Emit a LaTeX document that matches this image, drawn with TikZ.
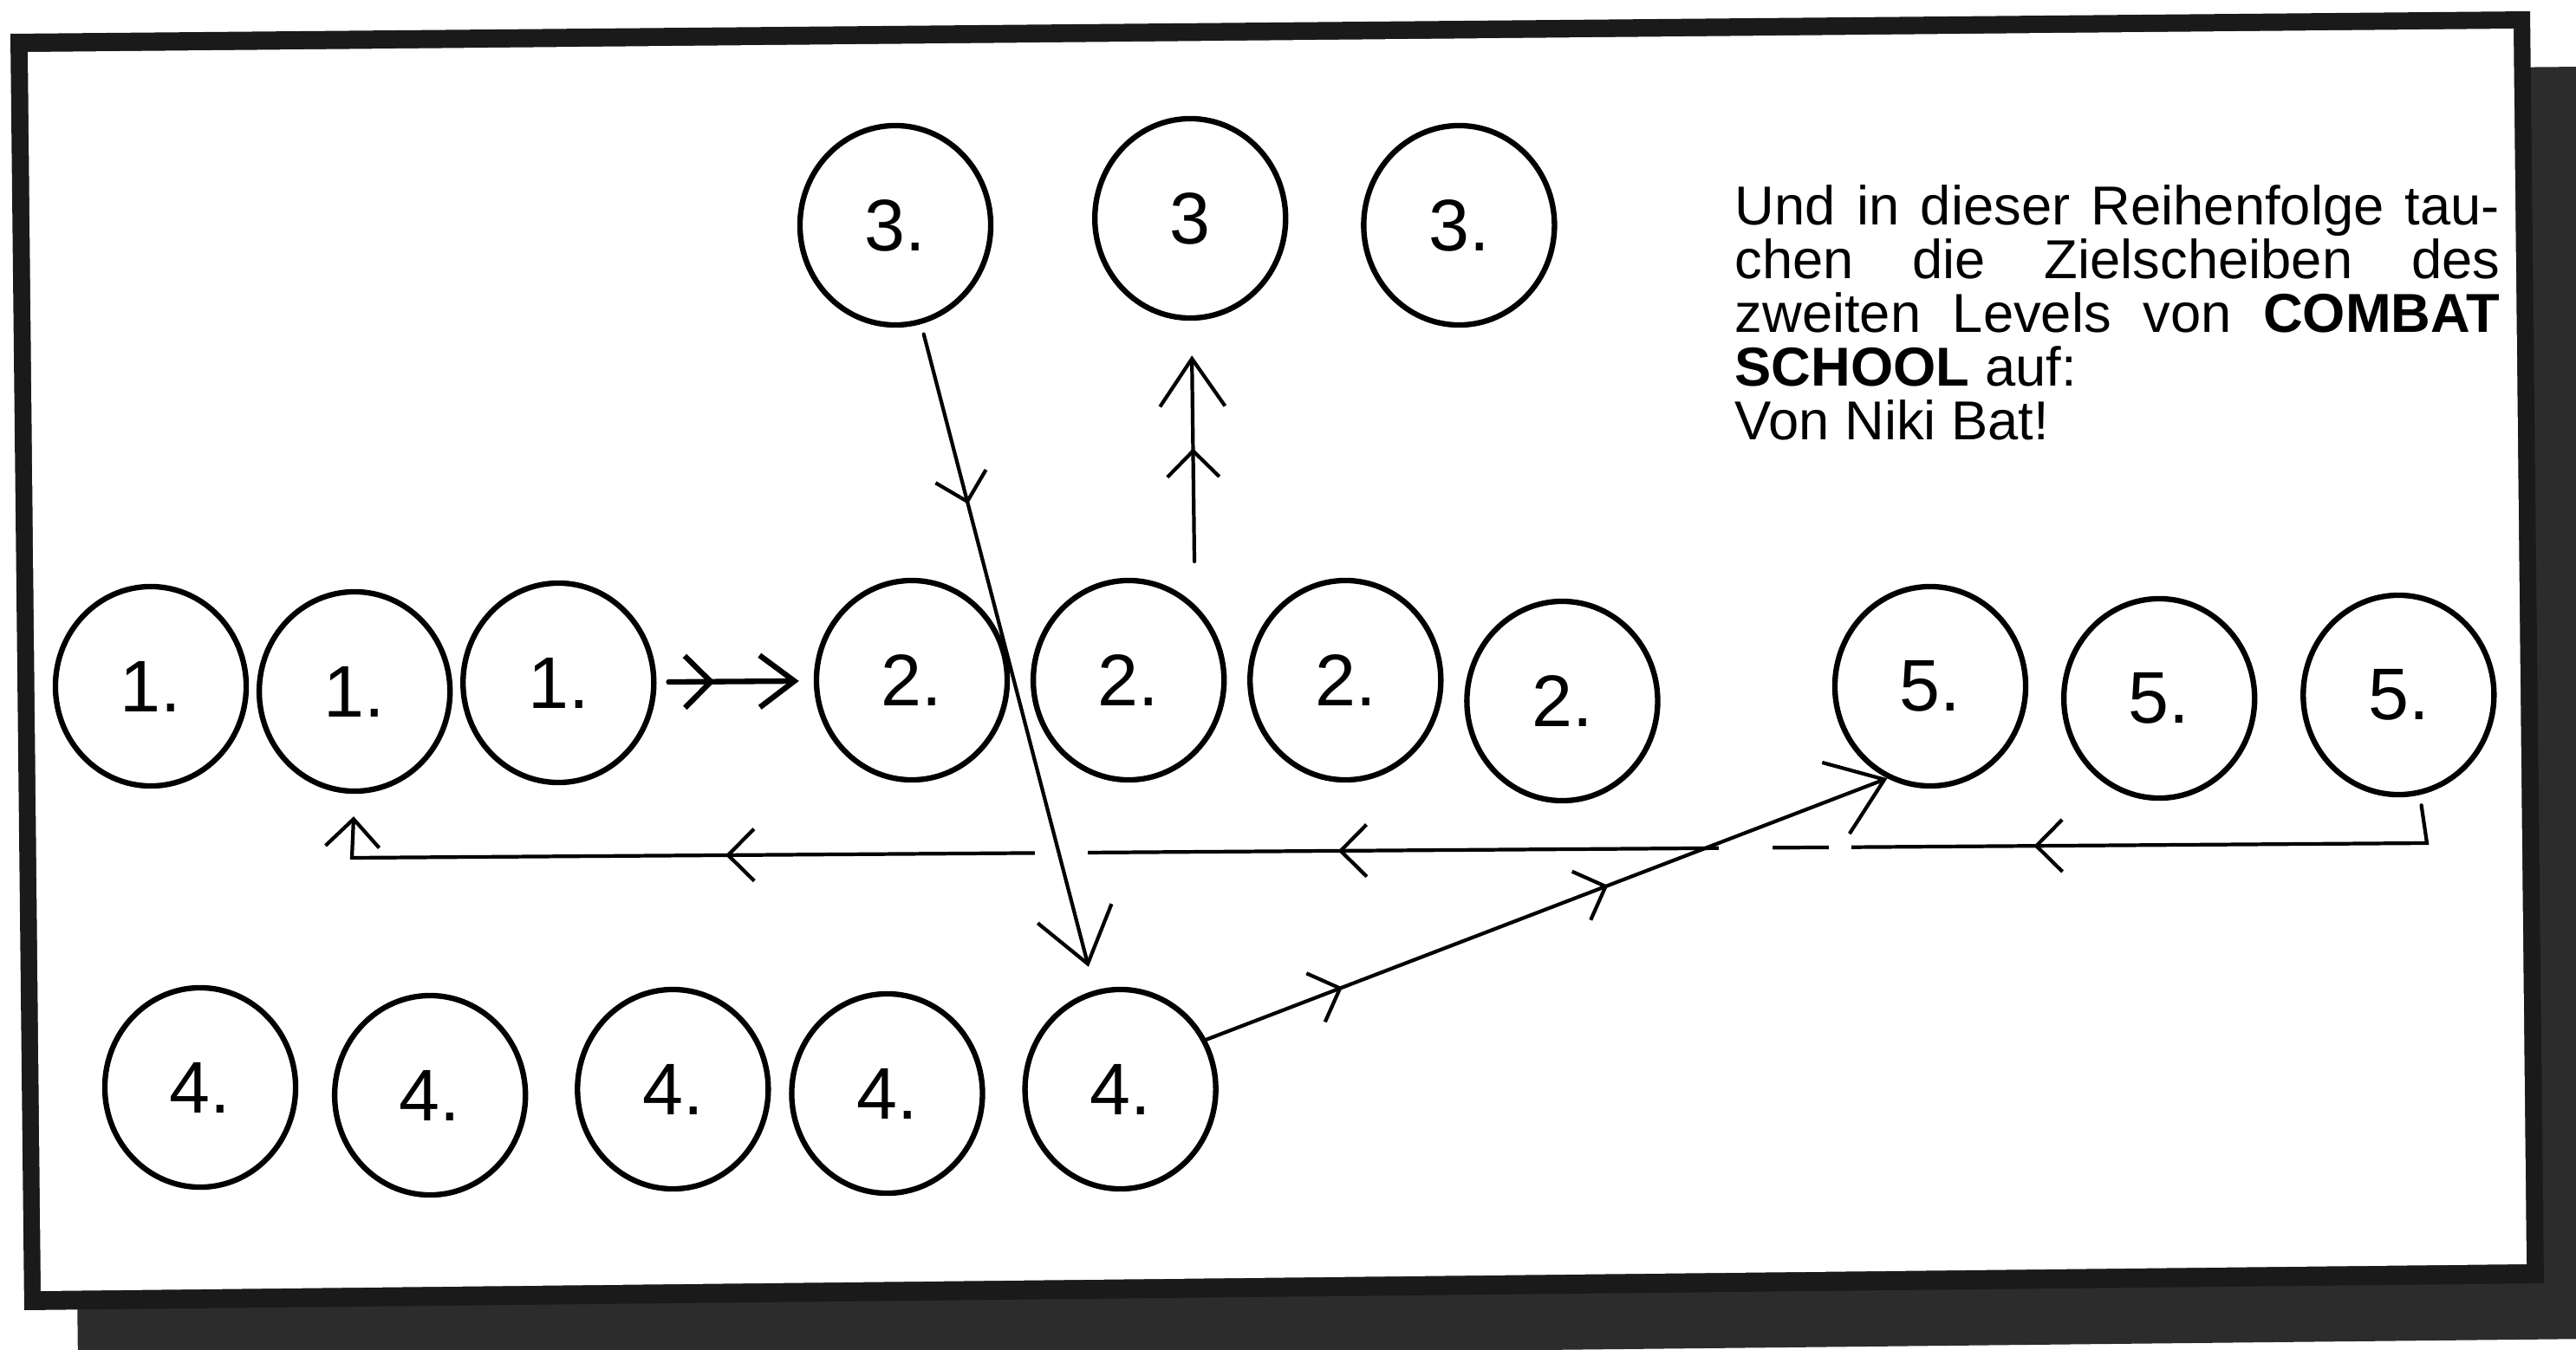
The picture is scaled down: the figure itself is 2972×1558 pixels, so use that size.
\documentclass[tikz,border=0pt]{standalone}
\usepackage{fontspec}
\setmainfont{Liberation Sans}
\usepackage{xcolor}
\usetikzlibrary{positioning,shapes.geometric,arrows.meta,decorations.markings}
\definecolor{framegray}{RGB}{26,26,26}
\definecolor{shadowgray}{RGB}{44,44,44}
\tikzset{
  chev/.tip={Straight Barb[length=0.3cm,width=0.6cm]},
  bigchev/.tip={Straight Barb[length=0.6cm,width=0.88cm]}
}

\begin{document}
\begin{tikzpicture}[
  x=0.01cm, y=-0.01cm,
  node distance=2.5cm,
  target/.style={ellipse, draw, line width=1.8pt, minimum width=2.2cm, minimum height=2.3cm, inner sep=0pt, font=\fontsize{24}{24}\selectfont},
  line/.style={line width=1.2pt, line cap=round},
  midarrow/.style={postaction={decorate, decoration={markings, mark=at position #1 with {\arrow{chev}}}}}
]
  \useasboundingbox (0,0) rectangle (2972,1558);
  \fill[white] (0,0) rectangle (2972,1558);
  % frame with its shadow
  \fill[shadowgray] (74,103) -- (2981,77) -- (2997,1545) -- (90,1576) -- cycle;
  \fill[framegray] (12,39) -- (2919,13) -- (2935,1481) -- (28,1512) -- cycle;
  \fill[white] (32,60) -- (2900,33) -- (2915,1459) -- (47,1490) -- cycle;

  \node[target] (t1a) at (174,792) {1.};
  \node[target, right of=t1a, node distance=2.35cm, yshift=-0.06cm] (t1b) {1.};
  \node[target, right of=t1b, node distance=2.35cm, yshift=0.1cm] (t1c) {1.};

  \node[target] (t2a) at (1052,785) {2.};
  \node[target, right of=t2a] (t2b) {2.};
  \node[target, right of=t2b] (t2c) {2.};
  \node[target, right of=t2c, yshift=-0.24cm] (t2d) {2.};

  \node[target] (t3a) at (1033,260) {3.};
  \node[target, right of=t3a, node distance=3.4cm, yshift=0.08cm] (t3b) {3};
  \node[target, right of=t3b, node distance=3.1cm, yshift=-0.08cm] (t3c) {3.};

  \node[target] (t4a) at (231,1255) {4.};
  \node[target, right of=t4a, node distance=2.65cm, yshift=-0.09cm] (t4b) {4.};
  \node[target, right of=t4b, node distance=2.8cm, yshift=0.07cm] (t4c) {4.};
  \node[target, right of=t4c, node distance=2.47cm, yshift=-0.05cm] (t4d) {4.};
  \node[target, right of=t4d, node distance=2.69cm, yshift=0.05cm] (t4e) {4.};

  \node[target] (t5a) at (2227,792) {5.};
  \node[target, right of=t5a, node distance=2.64cm, yshift=-0.14cm] (t5b) {5.};
  \node[target, right of=t5b, node distance=2.76cm, yshift=0.04cm] (t5c) {5.};

  \node[anchor=base west, inner sep=0pt, text width=8.82cm, align=justify, font=\fontsize{18}{17.6}\selectfont] (note) at (2001,260)
    {\tolerance=10000 \hyphenpenalty=10000 Und in dieser Reihenfolge tau-\linebreak chen die Zielscheiben des\linebreak zweiten Levels von \textbf{COMBAT}\linebreak \textbf{SCHOOL} auf:\newline Von Niki Bat!};

  % way back from the 5s to the 1s
  \coordinate (r1) at (2800,973);
  \coordinate (r2) at (406,990);
  \draw[line, midarrow=0.202, midarrow=0.52, midarrow=0.8, -{Straight Barb[length=0.32cm,width=0.62cm]}, shorten <=0.12cm, shorten >=0.26cm] (t5c.-78) -- (r1) -- (r2) -- (t1b.south);
  \fill[white] (1194,955) rectangle (1255,1005);
  \fill[white] (1983,955) rectangle (2045,1000);
  \fill[white] (2110,955) rectangle (2136,1000);

  \draw[line, line width=1.8pt, midarrow=0.37, -{Straight Barb[length=0.4cm,width=0.6cm]}, shorten <=0.14cm, shorten >=0.17cm] (t1c) -- (t2a);
  \draw[line, midarrow=0.27, -bigchev, shorten <=0.12cm, shorten >=0.28cm] (t3a) -- (t4e);
  \coordinate (up) at (1378,648);
  \draw[line, midarrow=0.47, -{Straight Barb[length=0.55cm,width=0.75cm]}, shorten >=0.4cm] (up) -- (t3b);
  \draw[line, midarrow=0.2, midarrow=0.59, -bigchev] (t4e.30) -- (t5a.-115);
\end{tikzpicture}
\end{document}
